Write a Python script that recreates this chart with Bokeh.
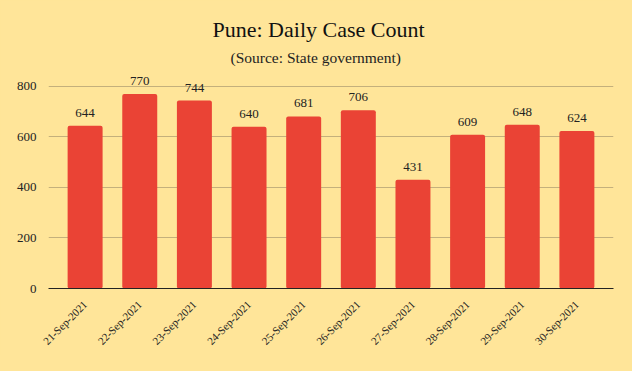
from bokeh.plotting import figure
from bokeh.models import ColumnDataSource, FactorRange, Range1d, Title, FixedTicker, GlobalInlineStyleSheet
from bokeh.core.properties import value
from bokeh.embed import file_html
from bokeh.resources import INLINE
import math

dates = ["21-Sep-2021", "22-Sep-2021", "23-Sep-2021", "24-Sep-2021", "25-Sep-2021",
         "26-Sep-2021", "27-Sep-2021", "28-Sep-2021", "29-Sep-2021", "30-Sep-2021"]
cases = [644, 770, 744, 640, 681, 706, 431, 609, 648, 624]
y_ticks = [0, 200, 400, 600, 800]

BG = "#FFE599"
BAR = "#EA4335"
FONT = "Liberation Serif"

src = ColumnDataSource(dict(x=dates, y=cases, label=[str(v) for v in cases]))

p = figure(width=616, height=355, x_range=FactorRange(factors=dates, range_padding=0.034),
           y_range=Range1d(0, 871), output_backend="svg", toolbar_location=None,
           min_border_left=48, min_border_right=3, min_border_bottom=67, min_border_top=68)
p.stylesheets = [GlobalInlineStyleSheet(css="body{background:%s;}" % BG)]

p.background_fill_color = BG
p.border_fill_color = BG
p.outline_line_color = None

p.title.text = ""
p.add_layout(Title(text="(Source: State government)", align="left", text_font=FONT,
                   text_font_size="15.5px", text_font_style="normal", text_color="#222222",
                   offset=182, standoff=6), "above")
p.add_layout(Title(text="Pune: Daily Case Count", align="left", text_font=FONT,
                   text_font_size="22px", text_font_style="normal", text_color="#111111",
                   offset=164, standoff=4), "above")

p.vbar(x="x", top="y", width=0.64, source=src, fill_color=BAR, line_color=None,
       border_radius=2)
p.text(x="x", y="y", text="label", source=src, text_align="center",
       text_baseline="alphabetic", y_offset=-13, text_font=value(FONT),
       text_font_size="13px", text_color="#222222")

p.xgrid.grid_line_color = None
p.ygrid.grid_line_color = "#C4B07C"
p.ygrid.ticker = FixedTicker(ticks=y_ticks)
p.yaxis.ticker = FixedTicker(ticks=y_ticks)

p.yaxis.axis_line_color = None
p.yaxis.major_tick_line_color = None
p.yaxis.minor_tick_line_color = None
p.yaxis.major_label_standoff = 6
p.yaxis.major_label_text_font = FONT
p.yaxis.major_label_text_font_size = "13px"
p.yaxis.major_label_text_color = "#222222"

p.xaxis.axis_line_color = "#222222"
p.xaxis.axis_line_width = 1
p.xaxis.major_tick_line_color = None
p.xaxis.minor_tick_line_color = None
p.xaxis.major_label_orientation = math.pi / 4
p.xaxis.major_label_standoff = 8
p.xaxis.major_label_text_font = FONT
p.xaxis.major_label_text_font_size = "11px"
p.xaxis.major_label_text_color = "#222222"

open("out.html", "w").write(file_html(p, INLINE))
